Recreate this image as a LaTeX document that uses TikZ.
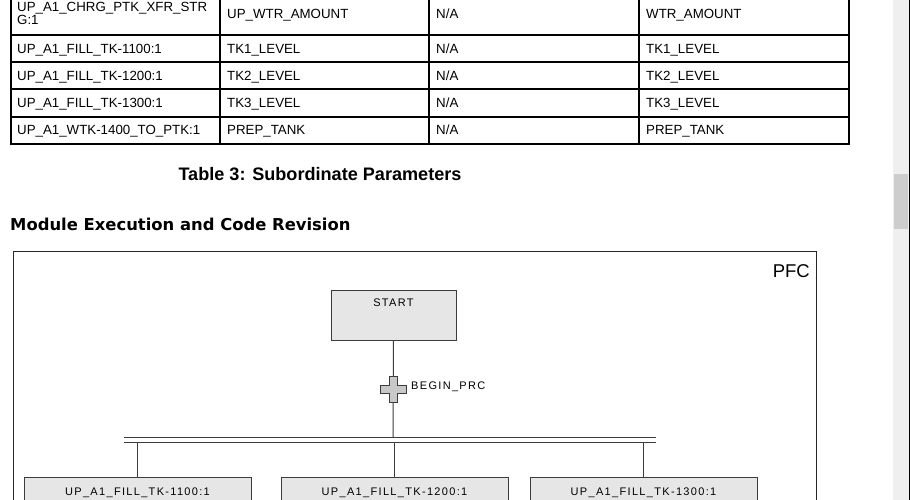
\documentclass[tikz,border=0pt]{standalone}
\usepackage{fontspec}
\setmainfont{Liberation Sans}
\newfontfamily\headfont{DejaVu Sans}
\newfontfamily\pfcfont[LetterSpace=12]{Liberation Sans}
\usetikzlibrary{positioning}
\definecolor{stepfill}{HTML}{E6E6E6}
\definecolor{stepline}{HTML}{3C3C3C}
\definecolor{transfill}{HTML}{C8C8C8}
\definecolor{barbg}{HTML}{EFEFEF}
\definecolor{barthumb}{HTML}{CDCDCD}
\tikzset{
  cell/.style={anchor=base west,inner sep=0pt,font=\fontsize{13.3}{13}\selectfont},
  pfctext/.style={anchor=base,inner sep=0pt,font=\pfcfont\fontsize{11}{12}\selectfont},
  stepbox/.style={draw=stepline,fill=stepfill,line width=1pt,inner sep=0pt},
  wire/.style={draw=stepline,line width=1pt}
}
\begin{document}
\begin{tikzpicture}[x=1pt,y=-1pt]
	\useasboundingbox (0,0) rectangle (910,500);
	\clip (0,0) rectangle (910,500);
	% table
	\draw[line width=2pt] (11,-10) -- (11,144) -- (849,144) -- (849,-10);
	\foreach \x in {220,429,639}
		\draw[line width=2pt] (\x,-10) -- (\x,144);
	\foreach \y in {35,62,89,117}
		\draw[line width=2pt] (11,\y) -- (849,\y);
	\node[cell] (r1a) at (17,12) {UP\_A1\_CHRG\_PTK\_XFR\_STR};
	\node[cell] (r1a2) at (17,25) {G:1};
	\node[cell] (r1b) at (227,19) {UP\_WTR\_AMOUNT};
	\node[cell] (r1c) at (436,19) {N/A};
	\node[cell] (r1d) at (646,19) {WTR\_AMOUNT};
	\foreach \r/\y/\a/\b in {2/54/UP\_A1\_FILL\_TK-1100:1/TK1\_LEVEL,
		3/81/UP\_A1\_FILL\_TK-1200:1/TK2\_LEVEL,
		4/108/UP\_A1\_FILL\_TK-1300:1/TK3\_LEVEL,
		5/135/UP\_A1\_WTK-1400\_TO\_PTK:1/PREP\_TANK} {
		\node[cell] (r\r a) at (17,\y) {\a};
		\node[cell] (r\r b) at (227,\y) {\b};
		\node[cell] (r\r c) at (436,\y) {N/A};
		\node[cell] (r\r d) at (646,\y) {\b};
	}
	\node[inner sep=0pt,font=\bfseries\fontsize{18.1}{19}\selectfont] (caption) at (320,174) {Table 3: Subordinate Parameters};
	\node[anchor=west,inner sep=0pt,font=\headfont\bfseries\fontsize{16.4}{18}\selectfont] (heading) at (10,224) {Module Execution and Code Revision};
	% PFC frame
	\draw[line width=1pt,black!85] (13,510) -- (13,251) -- (816,251) -- (816,510);
	\node[anchor=north east,inner sep=0pt,font=\fontsize{18.5}{19}\selectfont] (pfc) at (810,264) {PFC};
	\node[stepbox,minimum width=125,minimum height=50] (start) at (393.5,315) {};
	\node[pfctext,yshift=-17pt] (starttxt) at (start.north) {START};
	\coordinate (bar) at (393,437);
	\coordinate (trans) at (393,389);
	\draw[wire] (start.south) -- (bar);
	\draw[wire] (124,437) -- (656,437);
	\draw[wire] (124,442) -- (656,442);
	\coordinate (bar2) at (393,442);
	% transition
	\draw[stepline,fill=transfill,line width=1pt] (trans) ++(-4,-13) -- ++(8,0) -- ++(0,9) -- ++(9,0) -- ++(0,8)
		-- ++(-9,0) -- ++(0,9) -- ++(-8,0) -- ++(0,-9) -- ++(-9,0) -- ++(0,-8) -- ++(9,0) -- cycle;
	\node[pfctext,anchor=base west] (cond) at (411,389) {BEGIN\_PRC};
	% phases
	\foreach \n/\x/\t in {p1/137.5/UP\_A1\_FILL\_TK-1100:1,p2/394.5/UP\_A1\_FILL\_TK-1200:1,p3/643.5/UP\_A1\_FILL\_TK-1300:1} {
		\node[stepbox,anchor=north,minimum width=227,minimum height=50] (\n) at (\x,477) {};
		\node[pfctext,yshift=-18pt] (\n txt) at (\n.north) {\t};
		\draw[wire] (\n.north |- bar2) -- (\n.north);
	}
	% scrollbar
	\fill[barbg] (893,0) rectangle (909,500);
	\fill[barthumb] (894,174) rectangle (908,229);
	\fill[black] (909,0) rectangle (910,500);
\end{tikzpicture}
\end{document}
